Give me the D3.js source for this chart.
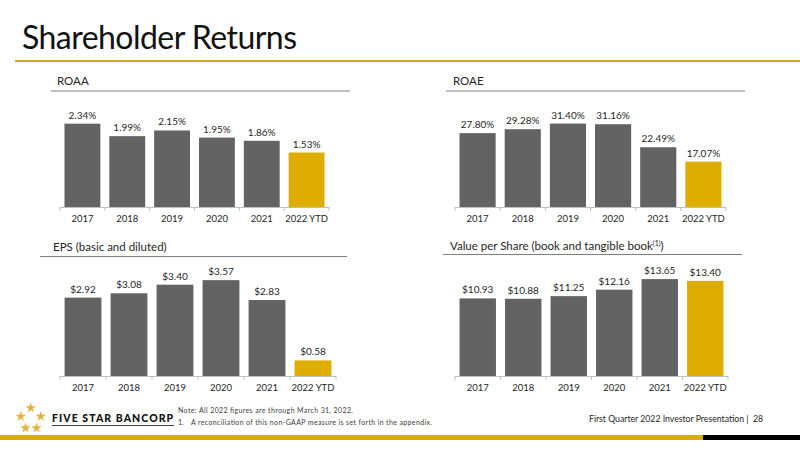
<!DOCTYPE html>
<html>
<head>
<meta charset="utf-8">
<script src="https://cdn.jsdelivr.net/npm/d3@7"></script>
<style>
  html, body { margin: 0; padding: 0; background: #fff; }
  svg { display: block; font-family: "Lato", "Open Sans", sans-serif; }
</style>
</head>
<body>
<div id="slide"></div>
<script>
//Data
const years = ["2017", "2018", "2019", "2020", "2021", "2022 YTD"];
const roaa = [2.34, 1.99, 2.15, 1.95, 1.86, 1.53];
const roae = [27.80, 29.28, 31.40, 31.16, 22.49, 17.07];
const eps = [2.92, 3.08, 3.40, 3.57, 2.83, 0.58];
const bookValue = [10.93, 10.88, 11.25, 12.16, 13.65, 13.40];

const GREY = "#636363";
const GOLD = "#DEAD00";
const TEXT = "#262626";

//Width and height
var w = 800;
var h = 449;

var svg = d3.select("#slide")
    .append("svg")
    .attr("width", w)
    .attr("height", h);

//Page title
svg.append("text")
    .attr("x", 22)
    .attr("y", 49)
    .attr("font-size", 32)
    .attr("fill", "#111")
    .attr("textLength", 275)
    .text("Shareholder Returns");

svg.append("line")
    .attr("x1", 15).attr("x2", w)
    .attr("y1", 61).attr("y2", 61)
    .attr("stroke", "#D4A92A")
    .attr("stroke-width", 2);

//Panels
var panels = [
    { title: "ROAA", values: roaa, fmt: d => d.toFixed(2) + "%", max: 2.5,
      tx: 57, ty: 85, ux0: 51, ux1: 350, uy: 91, x0: 60, x1: 329, base: 207, top: 118 },
    { title: "ROAE", values: roae, fmt: d => d.toFixed(2) + "%", max: 35,
      tx: 453, ty: 85, ux0: 446, ux1: 745, uy: 91, x0: 455, x1: 726, base: 207, top: 114 },
    { title: "EPS (basic and diluted)", values: eps, fmt: d => "$" + d.toFixed(2), max: 4,
      tx: 53, ty: 251, ux0: 40, ux1: 347, uy: 256.5, x0: 60, x1: 336, base: 376, top: 268.6 },
    { title: "Value per Share (book and tangible book", sup: true, values: bookValue, fmt: d => "$" + d.toFixed(2), max: 16,
      tx: 450, ty: 250, ux0: 443, ux1: 742, uy: 254.5, x0: 455, x1: 728, base: 376, top: 262.4 }
];

panels.forEach(p => {
    var g = svg.append("g");

    //Panel title
    var t = g.append("text")
        .attr("x", p.tx)
        .attr("y", p.ty)
        .attr("font-size", 11.5)
        .attr("fill", TEXT)
        .text(p.title);
    if (p.sup) {
        t.append("tspan")
            .attr("font-size", 7)
            .attr("dy", -4)
            .text("(1)");
        t.append("tspan")
            .attr("dy", 4)
            .text(")");
    }

    g.append("line")
        .attr("x1", p.ux0).attr("x2", p.ux1)
        .attr("y1", p.uy).attr("y2", p.uy)
        .attr("stroke", "#7f7f7f")
        .attr("stroke-width", 1);

    //Scales
    var x = d3.scaleBand()
        .domain(years)
        .range([p.x0, p.x1])
        .paddingInner(0.2)
        .paddingOuter(0.1);

    var y = d3.scaleLinear()
        .domain([0, p.max])
        .range([p.base, p.top]);

    var data = years.map((yr, i) => ({ year: yr, value: p.values[i], last: i === years.length - 1 }));

    //Bars
    g.selectAll("rect.bar")
        .data(data)
        .join("rect")
        .attr("class", "bar")
        .attr("x", d => x(d.year))
        .attr("y", d => y(d.value))
        .attr("width", x.bandwidth())
        .attr("height", d => y(0) - y(d.value))
        .attr("fill", d => d.last ? GOLD : GREY);

    //Value labels
    g.selectAll("text.val")
        .data(data)
        .join("text")
        .attr("class", "val")
        .attr("x", d => x(d.year) + x.bandwidth() / 2)
        .attr("y", d => y(d.value) - 5)
        .attr("text-anchor", "middle")
        .attr("font-size", 10)
        .attr("fill", TEXT)
        .text(d => p.fmt(d.value));

    //Category axis
    g.append("line")
        .attr("x1", p.x0).attr("x2", p.x1)
        .attr("y1", p.base + 0.5).attr("y2", p.base + 0.5)
        .attr("stroke", "#bfbfbf");

    var step = x.step();
    var edges = d3.range(years.length + 1).map(i => i === 0 ? p.x0 : (i === years.length ? p.x1 : x(years[i]) - (step - x.bandwidth()) / 2));
    g.selectAll("line.tick")
        .data(edges)
        .join("line")
        .attr("class", "tick")
        .attr("x1", d => d).attr("x2", d => d)
        .attr("y1", p.base).attr("y2", p.base + 4)
        .attr("stroke", "#bfbfbf");

    g.selectAll("text.cat")
        .data(data)
        .join("text")
        .attr("class", "cat")
        .attr("x", d => x(d.year) + x.bandwidth() / 2)
        .attr("y", p.base + 15)
        .attr("text-anchor", "middle")
        .attr("font-size", 9.5)
        .attr("fill", TEXT)
        .text(d => d.year);
});

//Footer logo stars
var stars = [[30.7, 408], [20.7, 416.5], [40.7, 416.5], [25.5, 428], [36.5, 428]];
svg.selectAll("path.star")
    .data(stars)
    .join("path")
    .attr("class", "star")
    .attr("transform", d => `translate(${d[0]},${d[1]})`)
    .attr("d", d3.symbol(d3.symbolStar, 34)())
    .attr("fill", "#E3B23C");

svg.append("text")
    .attr("x", 52)
    .attr("y", 422)
    .attr("font-size", 10.5)
    .attr("font-weight", 900)
    .attr("letter-spacing", 0.8)
    .attr("fill", "#111")
    .attr("textLength", 122)
    .text("FIVE STAR BANCORP");

svg.append("line")
    .attr("x1", 52).attr("x2", 174)
    .attr("y1", 425.5).attr("y2", 425.5)
    .attr("stroke", "#111")
    .attr("stroke-width", 0.8);

//Notes
svg.append("text")
    .attr("x", 178)
    .attr("y", 413)
    .attr("font-size", 7)
    .attr("fill", "#404040")
    .attr("textLength", 175)
    .text("Note: All 2022 figures are through March 31, 2022.");

svg.append("text")
    .attr("x", 178)
    .attr("y", 425)
    .attr("font-size", 7)
    .attr("fill", "#404040")
    .text("1.");

svg.append("text")
    .attr("x", 191)
    .attr("y", 425)
    .attr("font-size", 7)
    .attr("fill", "#404040")
    .attr("textLength", 241)
    .text("A reconciliation of this non-GAAP measure is set forth in the appendix.");

svg.append("text")
    .attr("x", 763)
    .attr("y", 422)
    .attr("text-anchor", "end")
    .attr("font-size", 8.7)
    .attr("fill", "#262626")
    .style("white-space", "pre")
    .text("First Quarter 2022 Investor Presentation |  28");

//Bottom bar
svg.append("rect")
    .attr("x", 0).attr("y", 435)
    .attr("width", 703).attr("height", 5)
    .attr("fill", "#DDAA0A");

svg.append("rect")
    .attr("x", 703).attr("y", 435)
    .attr("width", 97).attr("height", 5)
    .attr("fill", "#000");
</script>
</body>
</html>
